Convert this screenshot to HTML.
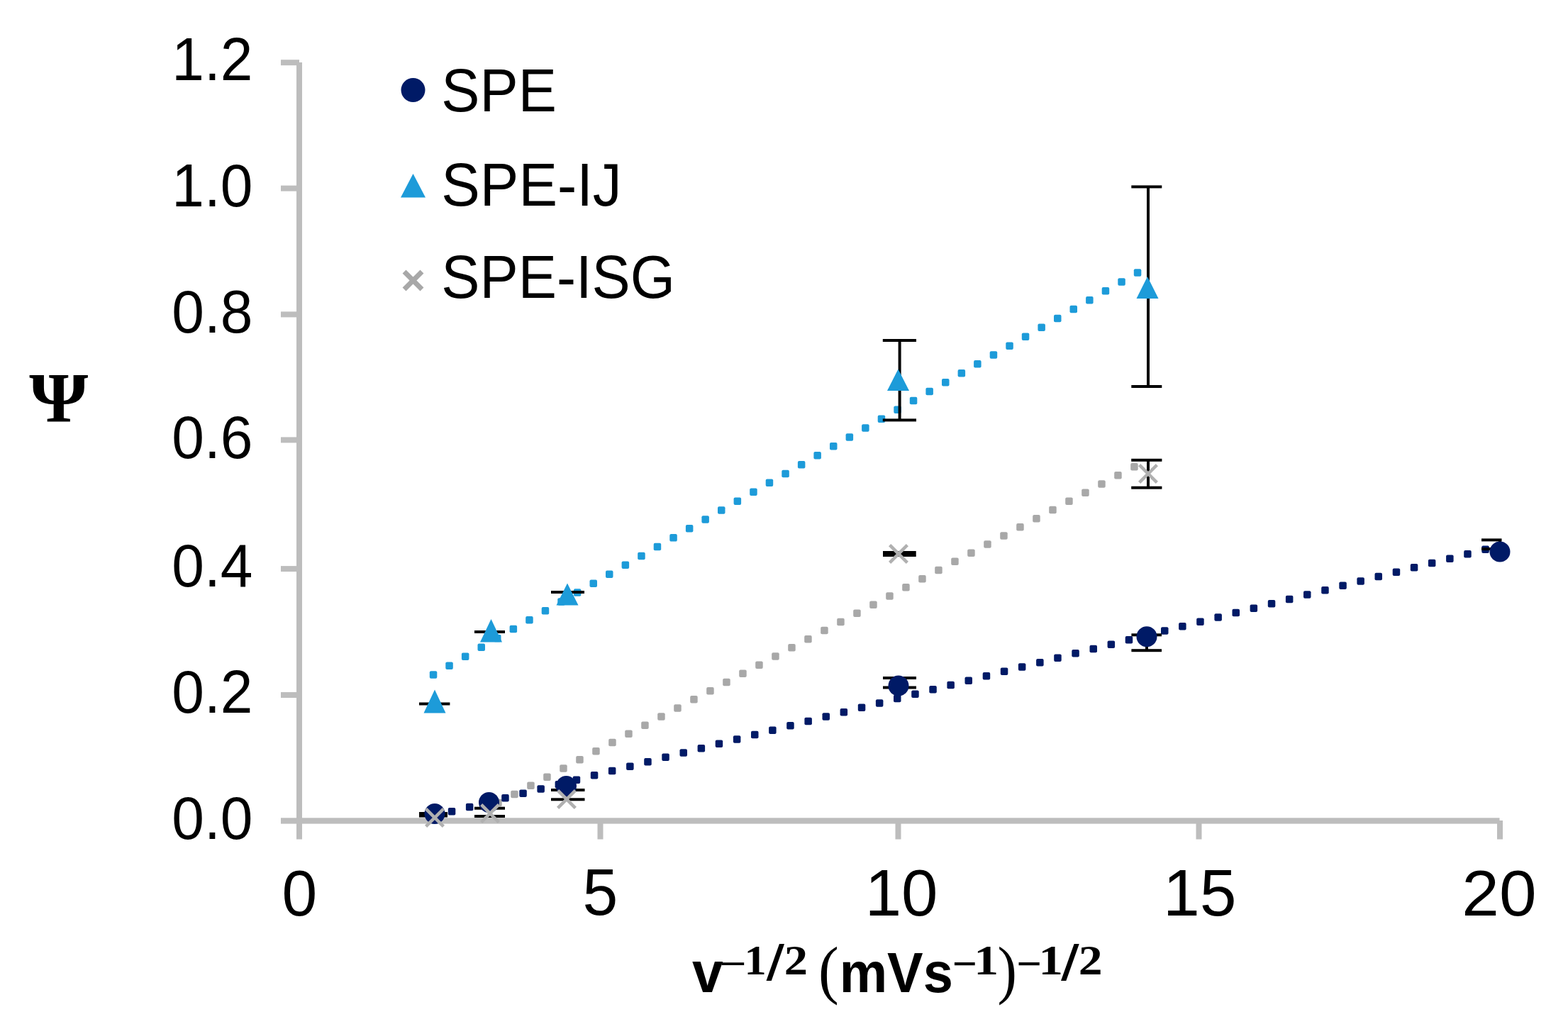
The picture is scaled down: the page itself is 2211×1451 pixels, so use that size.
<!DOCTYPE html>
<html><head><meta charset="utf-8"><title>Psi vs v^-1/2</title>
<style>html,body{margin:0;padding:0;background:#fff;overflow:hidden}svg{display:block}</style>
</head><body>
<svg width="2211" height="1451" viewBox="0 0 2211 1451">
<rect width="2211" height="1451" fill="#fff"/>
<g fill="#bdbdbd">
<rect x="418" y="88" width="8" height="1073.5"/>
<rect x="396" y="1153.3" width="1718.5" height="8.3"/>
<rect x="396" y="84.2" width="26" height="8"/>
<rect x="396" y="261.6" width="26" height="8"/>
<rect x="396" y="439.4" width="26" height="8"/>
<rect x="396" y="616.4" width="26" height="8"/>
<rect x="396" y="798.1" width="26" height="8"/>
<rect x="396" y="976.0" width="26" height="8"/>
<rect x="418.0" y="1157" width="8" height="26.5"/>
<rect x="842.5" y="1157" width="8" height="26.5"/>
<rect x="1262.5" y="1157" width="8" height="26.5"/>
<rect x="1686.5" y="1157" width="8" height="26.5"/>
<rect x="2111.0" y="1157" width="8" height="26.5"/>
</g>
<g fill="#1d9bd9">
<rect x="605.8" y="946.2" width="10.5" height="10.5" rx="2"/>
<rect x="628.3" y="933.4" width="10.5" height="10.5" rx="2"/>
<rect x="650.9" y="920.5" width="10.5" height="10.5" rx="2"/>
<rect x="673.5" y="907.6" width="10.5" height="10.5" rx="2"/>
<rect x="696.0" y="894.7" width="10.5" height="10.5" rx="2"/>
<rect x="718.6" y="881.8" width="10.5" height="10.5" rx="2"/>
<rect x="741.2" y="868.9" width="10.5" height="10.5" rx="2"/>
<rect x="763.7" y="856.0" width="10.5" height="10.5" rx="2"/>
<rect x="786.3" y="843.2" width="10.5" height="10.5" rx="2"/>
<rect x="808.9" y="830.3" width="10.5" height="10.5" rx="2"/>
<rect x="831.5" y="817.4" width="10.5" height="10.5" rx="2"/>
<rect x="854.0" y="804.5" width="10.5" height="10.5" rx="2"/>
<rect x="876.6" y="791.6" width="10.5" height="10.5" rx="2"/>
<rect x="899.2" y="778.7" width="10.5" height="10.5" rx="2"/>
<rect x="921.7" y="765.8" width="10.5" height="10.5" rx="2"/>
<rect x="944.3" y="753.0" width="10.5" height="10.5" rx="2"/>
<rect x="966.9" y="740.1" width="10.5" height="10.5" rx="2"/>
<rect x="989.4" y="727.2" width="10.5" height="10.5" rx="2"/>
<rect x="1012.0" y="714.3" width="10.5" height="10.5" rx="2"/>
<rect x="1034.6" y="701.4" width="10.5" height="10.5" rx="2"/>
<rect x="1057.2" y="688.5" width="10.5" height="10.5" rx="2"/>
<rect x="1079.7" y="675.6" width="10.5" height="10.5" rx="2"/>
<rect x="1102.3" y="662.8" width="10.5" height="10.5" rx="2"/>
<rect x="1124.9" y="649.9" width="10.5" height="10.5" rx="2"/>
<rect x="1147.4" y="637.0" width="10.5" height="10.5" rx="2"/>
<rect x="1170.0" y="624.1" width="10.5" height="10.5" rx="2"/>
<rect x="1192.6" y="611.2" width="10.5" height="10.5" rx="2"/>
<rect x="1215.1" y="598.3" width="10.5" height="10.5" rx="2"/>
<rect x="1237.7" y="585.4" width="10.5" height="10.5" rx="2"/>
<rect x="1260.3" y="572.6" width="10.5" height="10.5" rx="2"/>
<rect x="1282.8" y="559.7" width="10.5" height="10.5" rx="2"/>
<rect x="1305.4" y="546.8" width="10.5" height="10.5" rx="2"/>
<rect x="1328.0" y="533.9" width="10.5" height="10.5" rx="2"/>
<rect x="1350.6" y="521.0" width="10.5" height="10.5" rx="2"/>
<rect x="1373.1" y="508.1" width="10.5" height="10.5" rx="2"/>
<rect x="1395.7" y="495.2" width="10.5" height="10.5" rx="2"/>
<rect x="1418.3" y="482.4" width="10.5" height="10.5" rx="2"/>
<rect x="1440.8" y="469.5" width="10.5" height="10.5" rx="2"/>
<rect x="1463.4" y="456.6" width="10.5" height="10.5" rx="2"/>
<rect x="1486.0" y="443.7" width="10.5" height="10.5" rx="2"/>
<rect x="1508.5" y="430.8" width="10.5" height="10.5" rx="2"/>
<rect x="1531.1" y="417.9" width="10.5" height="10.5" rx="2"/>
<rect x="1553.7" y="405.0" width="10.5" height="10.5" rx="2"/>
<rect x="1576.3" y="392.2" width="10.5" height="10.5" rx="2"/>
<rect x="1598.8" y="379.3" width="10.5" height="10.5" rx="2"/>
</g>
<g fill="#a8a8a8">
<rect x="697.2" y="1126.8" width="10.5" height="10.5" rx="2"/>
<rect x="720.2" y="1114.7" width="10.5" height="10.5" rx="2"/>
<rect x="743.2" y="1102.5" width="10.5" height="10.5" rx="2"/>
<rect x="766.2" y="1090.4" width="10.5" height="10.5" rx="2"/>
<rect x="789.2" y="1078.2" width="10.5" height="10.5" rx="2"/>
<rect x="812.2" y="1066.1" width="10.5" height="10.5" rx="2"/>
<rect x="835.2" y="1053.9" width="10.5" height="10.5" rx="2"/>
<rect x="858.2" y="1041.8" width="10.5" height="10.5" rx="2"/>
<rect x="881.2" y="1029.6" width="10.5" height="10.5" rx="2"/>
<rect x="904.2" y="1017.5" width="10.5" height="10.5" rx="2"/>
<rect x="927.2" y="1005.3" width="10.5" height="10.5" rx="2"/>
<rect x="950.2" y="993.2" width="10.5" height="10.5" rx="2"/>
<rect x="973.2" y="981.0" width="10.5" height="10.5" rx="2"/>
<rect x="996.2" y="968.9" width="10.5" height="10.5" rx="2"/>
<rect x="1019.2" y="956.7" width="10.5" height="10.5" rx="2"/>
<rect x="1042.2" y="944.6" width="10.5" height="10.5" rx="2"/>
<rect x="1065.2" y="932.4" width="10.5" height="10.5" rx="2"/>
<rect x="1088.2" y="920.3" width="10.5" height="10.5" rx="2"/>
<rect x="1111.2" y="908.1" width="10.5" height="10.5" rx="2"/>
<rect x="1134.2" y="896.0" width="10.5" height="10.5" rx="2"/>
<rect x="1157.2" y="883.8" width="10.5" height="10.5" rx="2"/>
<rect x="1180.2" y="871.7" width="10.5" height="10.5" rx="2"/>
<rect x="1203.2" y="859.5" width="10.5" height="10.5" rx="2"/>
<rect x="1226.2" y="847.4" width="10.5" height="10.5" rx="2"/>
<rect x="1249.2" y="835.2" width="10.5" height="10.5" rx="2"/>
<rect x="1272.2" y="823.1" width="10.5" height="10.5" rx="2"/>
<rect x="1295.2" y="810.9" width="10.5" height="10.5" rx="2"/>
<rect x="1318.2" y="798.8" width="10.5" height="10.5" rx="2"/>
<rect x="1341.2" y="786.6" width="10.5" height="10.5" rx="2"/>
<rect x="1364.2" y="774.5" width="10.5" height="10.5" rx="2"/>
<rect x="1387.2" y="762.3" width="10.5" height="10.5" rx="2"/>
<rect x="1410.2" y="750.2" width="10.5" height="10.5" rx="2"/>
<rect x="1433.2" y="738.0" width="10.5" height="10.5" rx="2"/>
<rect x="1456.2" y="725.9" width="10.5" height="10.5" rx="2"/>
<rect x="1479.2" y="713.7" width="10.5" height="10.5" rx="2"/>
<rect x="1502.2" y="701.6" width="10.5" height="10.5" rx="2"/>
<rect x="1525.2" y="689.4" width="10.5" height="10.5" rx="2"/>
<rect x="1548.2" y="677.2" width="10.5" height="10.5" rx="2"/>
<rect x="1571.2" y="665.1" width="10.5" height="10.5" rx="2"/>
<rect x="1594.2" y="653.0" width="10.5" height="10.5" rx="2"/>
</g>
<g fill="#001a66">
<rect x="606.6" y="1145.5" width="10.5" height="10.5" rx="2"/>
<rect x="631.8" y="1139.1" width="10.5" height="10.5" rx="2"/>
<rect x="656.9" y="1132.7" width="10.5" height="10.5" rx="2"/>
<rect x="682.0" y="1126.3" width="10.5" height="10.5" rx="2"/>
<rect x="707.2" y="1120.0" width="10.5" height="10.5" rx="2"/>
<rect x="732.3" y="1113.6" width="10.5" height="10.5" rx="2"/>
<rect x="757.4" y="1107.2" width="10.5" height="10.5" rx="2"/>
<rect x="782.6" y="1100.9" width="10.5" height="10.5" rx="2"/>
<rect x="807.7" y="1094.5" width="10.5" height="10.5" rx="2"/>
<rect x="832.8" y="1088.1" width="10.5" height="10.5" rx="2"/>
<rect x="857.9" y="1081.8" width="10.5" height="10.5" rx="2"/>
<rect x="883.1" y="1075.4" width="10.5" height="10.5" rx="2"/>
<rect x="908.2" y="1069.0" width="10.5" height="10.5" rx="2"/>
<rect x="933.3" y="1062.6" width="10.5" height="10.5" rx="2"/>
<rect x="958.5" y="1056.3" width="10.5" height="10.5" rx="2"/>
<rect x="983.6" y="1049.9" width="10.5" height="10.5" rx="2"/>
<rect x="1008.7" y="1043.5" width="10.5" height="10.5" rx="2"/>
<rect x="1033.9" y="1037.2" width="10.5" height="10.5" rx="2"/>
<rect x="1059.0" y="1030.8" width="10.5" height="10.5" rx="2"/>
<rect x="1084.1" y="1024.4" width="10.5" height="10.5" rx="2"/>
<rect x="1109.2" y="1018.1" width="10.5" height="10.5" rx="2"/>
<rect x="1134.4" y="1011.7" width="10.5" height="10.5" rx="2"/>
<rect x="1159.5" y="1005.3" width="10.5" height="10.5" rx="2"/>
<rect x="1184.6" y="998.9" width="10.5" height="10.5" rx="2"/>
<rect x="1209.8" y="992.6" width="10.5" height="10.5" rx="2"/>
<rect x="1234.9" y="986.2" width="10.5" height="10.5" rx="2"/>
<rect x="1260.0" y="979.8" width="10.5" height="10.5" rx="2"/>
<rect x="1285.2" y="973.5" width="10.5" height="10.5" rx="2"/>
<rect x="1310.3" y="967.1" width="10.5" height="10.5" rx="2"/>
<rect x="1335.4" y="960.7" width="10.5" height="10.5" rx="2"/>
<rect x="1360.5" y="954.4" width="10.5" height="10.5" rx="2"/>
<rect x="1385.7" y="948.0" width="10.5" height="10.5" rx="2"/>
<rect x="1410.8" y="941.6" width="10.5" height="10.5" rx="2"/>
<rect x="1435.9" y="935.2" width="10.5" height="10.5" rx="2"/>
<rect x="1461.1" y="928.9" width="10.5" height="10.5" rx="2"/>
<rect x="1486.2" y="922.5" width="10.5" height="10.5" rx="2"/>
<rect x="1511.3" y="916.1" width="10.5" height="10.5" rx="2"/>
<rect x="1536.5" y="909.8" width="10.5" height="10.5" rx="2"/>
<rect x="1561.6" y="903.4" width="10.5" height="10.5" rx="2"/>
<rect x="1586.7" y="897.0" width="10.5" height="10.5" rx="2"/>
<rect x="1611.8" y="890.7" width="10.5" height="10.5" rx="2"/>
<rect x="1637.0" y="884.3" width="10.5" height="10.5" rx="2"/>
<rect x="1662.1" y="877.9" width="10.5" height="10.5" rx="2"/>
<rect x="1687.2" y="871.5" width="10.5" height="10.5" rx="2"/>
<rect x="1712.4" y="865.2" width="10.5" height="10.5" rx="2"/>
<rect x="1737.5" y="858.8" width="10.5" height="10.5" rx="2"/>
<rect x="1762.6" y="852.4" width="10.5" height="10.5" rx="2"/>
<rect x="1787.8" y="846.1" width="10.5" height="10.5" rx="2"/>
<rect x="1812.9" y="839.7" width="10.5" height="10.5" rx="2"/>
<rect x="1838.0" y="833.3" width="10.5" height="10.5" rx="2"/>
<rect x="1863.2" y="827.0" width="10.5" height="10.5" rx="2"/>
<rect x="1888.3" y="820.6" width="10.5" height="10.5" rx="2"/>
<rect x="1913.4" y="814.2" width="10.5" height="10.5" rx="2"/>
<rect x="1938.5" y="807.8" width="10.5" height="10.5" rx="2"/>
<rect x="1963.7" y="801.5" width="10.5" height="10.5" rx="2"/>
<rect x="1988.8" y="795.1" width="10.5" height="10.5" rx="2"/>
<rect x="2013.9" y="788.7" width="10.5" height="10.5" rx="2"/>
<rect x="2039.1" y="782.4" width="10.5" height="10.5" rx="2"/>
<rect x="2064.2" y="776.0" width="10.5" height="10.5" rx="2"/>
<rect x="2089.3" y="769.6" width="10.5" height="10.5" rx="2"/>
</g>
<g fill="#000">
<rect x="591.0" y="1145.0" width="40.0" height="4"/>
<rect x="591.0" y="1148.5" width="40.0" height="4"/>
<rect x="669.0" y="1137.7" width="43.0" height="4"/>
<rect x="669.0" y="1149.0" width="43.0" height="4"/>
<rect x="688.5" y="1139.7" width="4" height="11.3"/>
<rect x="777.0" y="1112.0" width="47.5" height="4"/>
<rect x="777.0" y="1125.3" width="47.5" height="4"/>
<rect x="798.5" y="1114.0" width="4" height="13.3"/>
<rect x="1245.0" y="954.0" width="47.0" height="4"/>
<rect x="1245.0" y="967.5" width="47.0" height="4"/>
<rect x="1266.5" y="956.0" width="4" height="13.5"/>
<rect x="1595.4" y="893.3" width="42.6" height="4"/>
<rect x="1595.4" y="915.2" width="42.6" height="4"/>
<rect x="1615.0" y="895.3" width="4" height="21.9"/>
<rect x="2089.0" y="759.4" width="28.5" height="4"/>
<rect x="2089.0" y="772.1" width="28.5" height="4"/>
<rect x="2113.0" y="761.4" width="4" height="12.7"/>
<rect x="591.0" y="990.5" width="43.4" height="4"/>
<rect x="669.0" y="889.0" width="43.0" height="4"/>
<rect x="777.0" y="833.0" width="47.0" height="4"/>
<rect x="1244.8" y="478.0" width="47.2" height="4"/>
<rect x="1244.8" y="590.4" width="47.2" height="4"/>
<rect x="1266.6" y="480.0" width="4" height="112.4"/>
<rect x="1595.3" y="261.4" width="43.0" height="4"/>
<rect x="1595.3" y="543.0" width="43.0" height="4"/>
<rect x="1617.0" y="263.4" width="4" height="281.6"/>
<rect x="1245.0" y="777.0" width="46.7" height="8"/>
<rect x="1595.2" y="646.8" width="43.2" height="4"/>
<rect x="1595.2" y="685.7" width="43.2" height="4"/>
<rect x="1617.0" y="648.8" width="4" height="38.9"/>
</g>
<g fill="#001a66">
<circle cx="613" cy="1147.5" r="14.5"/>
<circle cx="689.5" cy="1131.5" r="14.5"/>
<circle cx="798.5" cy="1108.5" r="14.5"/>
<circle cx="1267" cy="967" r="14.5"/>
<circle cx="1617" cy="897.7" r="14.5"/>
<circle cx="2115" cy="778" r="14.5"/>
</g>
<g fill="#1d9bd9">
<polygon points="613.0,972.6 628.5,1005.6 597.5,1005.6"/>
<polygon points="692.5,873.0 708.0,905.6 677.0,905.6"/>
<polygon points="800.0,822.5 815.5,853.5 784.5,853.5"/>
<polygon points="1266.5,520.5 1282.0,551.0 1251.0,551.0"/>
<polygon points="1618.0,390.0 1633.5,421.0 1602.5,421.0"/>
</g>
<g stroke="#b0b0b0" stroke-width="4.5" stroke-linecap="square">
<path d="M602.2,1142.2L623.8,1163.8M623.8,1142.2L602.2,1163.8"/>
<path d="M680.2,1136.2L701.8,1157.8M701.8,1136.2L680.2,1157.8"/>
<path d="M788.2,1116.2L809.8,1137.8M809.8,1116.2L788.2,1137.8"/>
<path d="M1256.2,770.2L1277.8,791.8M1277.8,770.2L1256.2,791.8"/>
<path d="M1608.2,657.2L1629.8,678.8M1629.8,657.2L1608.2,678.8"/>
</g>
<circle cx="582.5" cy="127" r="17" fill="#001a66"/>
<polygon points="582.5,245 600,278.4 565,278.4" fill="#1d9bd9"/>
<path d="M572.5,385.5L592.5,405.5M592.5,385.5L572.5,405.5" stroke="#a8a8a8" stroke-width="7" stroke-linecap="square"/>
<text transform="translate(356.39,113.30) scale(0.9646,1.0000)" font-family="Liberation Sans, sans-serif" font-size="85.11" font-weight="normal" text-anchor="end" fill="#000">1.2</text>
<text transform="translate(356.39,290.70) scale(0.9646,1.0000)" font-family="Liberation Sans, sans-serif" font-size="85.11" font-weight="normal" text-anchor="end" fill="#000">1.0</text>
<text transform="translate(356.39,468.50) scale(0.9646,1.0000)" font-family="Liberation Sans, sans-serif" font-size="85.11" font-weight="normal" text-anchor="end" fill="#000">0.8</text>
<text transform="translate(356.39,645.50) scale(0.9646,1.0000)" font-family="Liberation Sans, sans-serif" font-size="85.11" font-weight="normal" text-anchor="end" fill="#000">0.6</text>
<text transform="translate(356.39,827.20) scale(0.9646,1.0000)" font-family="Liberation Sans, sans-serif" font-size="85.11" font-weight="normal" text-anchor="end" fill="#000">0.4</text>
<text transform="translate(356.39,1005.10) scale(0.9646,1.0000)" font-family="Liberation Sans, sans-serif" font-size="85.11" font-weight="normal" text-anchor="end" fill="#000">0.2</text>
<text transform="translate(356.39,1182.60) scale(0.9646,1.0000)" font-family="Liberation Sans, sans-serif" font-size="85.11" font-weight="normal" text-anchor="end" fill="#000">0.0</text>
<text transform="translate(397.52,1290.59) scale(0.9849,1.0000)" font-family="Liberation Sans, sans-serif" font-size="90.84" font-weight="normal" text-anchor="start" fill="#000">0</text>
<text transform="translate(821.62,1290.48) scale(0.9725,1.0000)" font-family="Liberation Sans, sans-serif" font-size="92.00" font-weight="normal" text-anchor="start" fill="#000">5</text>
<text transform="translate(1219.67,1290.68) scale(1.0047,1.0000)" font-family="Liberation Sans, sans-serif" font-size="91.97" font-weight="normal" text-anchor="start" fill="#000">10</text>
<text transform="translate(1640.02,1290.67) scale(0.9976,1.0000)" font-family="Liberation Sans, sans-serif" font-size="93.29" font-weight="normal" text-anchor="start" fill="#000">15</text>
<text transform="translate(2061.27,1290.59) scale(1.0417,1.0000)" font-family="Liberation Sans, sans-serif" font-size="90.84" font-weight="normal" text-anchor="start" fill="#000">20</text>
<text transform="translate(622.35,156.55) scale(0.9529,1.0000)" font-family="Liberation Sans, sans-serif" font-size="85.21" font-weight="normal" text-anchor="start" fill="#000">SPE</text>
<text transform="translate(622.32,290.45) scale(0.9628,1.0000)" font-family="Liberation Sans, sans-serif" font-size="84.93" font-weight="normal" text-anchor="start" fill="#000">SPE-IJ</text>
<text transform="translate(622.34,420.15) scale(0.9556,1.0000)" font-family="Liberation Sans, sans-serif" font-size="85.07" font-weight="normal" text-anchor="start" fill="#000">SPE-ISG</text>
<text transform="translate(41.17,594.40) scale(1.0749,1.0000)" font-family="Liberation Serif, serif" font-size="99.08" font-weight="bold" text-anchor="start" fill="#000">Ψ</text>
<text transform="translate(975.91,1399.40) scale(0.9702,1.0000)" font-family="Liberation Sans, sans-serif" font-size="80.75" font-weight="bold" text-anchor="start" fill="#000">v</text>
<text transform="translate(1015.50,1370.93) scale(1.7656,1.0000)" font-family="Liberation Sans, sans-serif" font-size="35.45" font-weight="bold" text-anchor="start" fill="#000">−</text>
<text transform="translate(1049.41,1373.80) scale(1.0567,1.0000)" font-family="Liberation Serif, serif" font-size="59.08" font-weight="bold" text-anchor="start" fill="#000">1</text>
<text transform="translate(1080.40,1381.90) scale(1.3105,1.0000)" font-family="Liberation Sans, sans-serif" font-size="70.20" font-weight="normal" text-anchor="start" fill="#000">/</text>
<text transform="translate(1105.84,1373.80) scale(1.1342,1.0000)" font-family="Liberation Serif, serif" font-size="58.64" font-weight="bold" text-anchor="start" fill="#000">2</text>
<text transform="translate(1154.12,1397.87) scale(0.9469,1.0000)" font-family="Liberation Serif, serif" font-size="91.11" font-weight="normal" text-anchor="start" fill="#000">(</text>
<text transform="translate(1183.67,1399.20) scale(0.9483,1.0000)" font-family="Liberation Sans, sans-serif" font-size="80.00" font-weight="bold" text-anchor="start" fill="#000">mVs</text>
<text transform="translate(1343.20,1371.79) scale(1.5033,1.0000)" font-family="Liberation Sans, sans-serif" font-size="38.18" font-weight="bold" text-anchor="start" fill="#000">−</text>
<text transform="translate(1373.32,1373.90) scale(1.1771,1.0000)" font-family="Liberation Serif, serif" font-size="59.24" font-weight="bold" text-anchor="start" fill="#000">1</text>
<text transform="translate(1406.53,1397.66) scale(0.9078,1.0000)" font-family="Liberation Serif, serif" font-size="90.67" font-weight="normal" text-anchor="start" fill="#000">)</text>
<text transform="translate(1433.66,1371.79) scale(1.5295,1.0000)" font-family="Liberation Sans, sans-serif" font-size="38.18" font-weight="bold" text-anchor="start" fill="#000">−</text>
<text transform="translate(1464.39,1373.90) scale(1.1635,1.0000)" font-family="Liberation Serif, serif" font-size="59.24" font-weight="bold" text-anchor="start" fill="#000">1</text>
<text transform="translate(1495.90,1381.70) scale(1.3234,1.0000)" font-family="Liberation Sans, sans-serif" font-size="70.07" font-weight="normal" text-anchor="start" fill="#000">/</text>
<text transform="translate(1520.79,1373.90) scale(1.1518,1.0000)" font-family="Liberation Serif, serif" font-size="58.79" font-weight="bold" text-anchor="start" fill="#000">2</text>
</svg>
</body></html>
